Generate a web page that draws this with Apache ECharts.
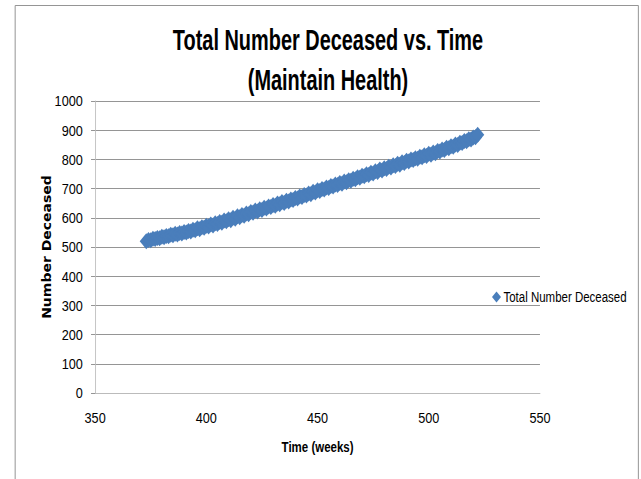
<!DOCTYPE html>
<html>
<head>
<meta charset="utf-8">
<script src="https://cdn.jsdelivr.net/npm/echarts@6/dist/echarts.min.js"></script>
<style>
  html, body { margin: 0; padding: 0; background: #ffffff; overflow: hidden; }
  /* The chart is laid out on a wider canvas and condensed horizontally,
     giving the narrow, tall lettering of the original workbook chart. */
  #chart { width: 782px; height: 479px; transform: scaleX(0.82); transform-origin: 0 0; }
</style>
</head>
<body>
<div id="chart"></div>
<script>
// Simulation output: cumulative deaths per week (maintain-health scenario)
const weeks = [
  373, 374, 375, 376, 377, 378, 379, 380, 381, 382, 383, 384, 385, 386, 387, 388, 389, 390, 391, 392,
  393, 394, 395, 396, 397, 398, 399, 400, 401, 402, 403, 404, 405, 406, 407, 408, 409, 410, 411, 412,
  413, 414, 415, 416, 417, 418, 419, 420, 421, 422, 423, 424, 425, 426, 427, 428, 429, 430, 431, 432,
  433, 434, 435, 436, 437, 438, 439, 440, 441, 442, 443, 444, 445, 446, 447, 448, 449, 450, 451, 452,
  453, 454, 455, 456, 457, 458, 459, 460, 461, 462, 463, 464, 465, 466, 467, 468, 469, 470, 471, 472,
  473, 474, 475, 476, 477, 478, 479, 480, 481, 482, 483, 484, 485, 486, 487, 488, 489, 490, 491, 492,
  493, 494, 495, 496, 497, 498, 499, 500, 501, 502, 503, 504, 505, 506, 507, 508, 509, 510, 511, 512,
  513, 514, 515, 516, 517, 518, 519, 520, 521, 522
];
const deceased = [
  520, 524, 523, 528, 527, 531, 530, 535, 533, 538, 537, 542, 540, 545, 543, 548, 546, 551, 550, 555,
  553, 559, 557, 564, 561, 568, 566, 573, 570, 577, 574, 581, 579, 586, 583, 591, 588, 595, 592, 600,
  597, 605, 602, 610, 607, 615, 612, 620, 617, 625, 622, 629, 627, 634, 632, 639, 637, 644, 641, 649,
  646, 654, 651, 658, 656, 663, 661, 668, 666, 673, 671, 678, 676, 683, 681, 689, 687, 694, 692, 699,
  697, 704, 702, 709, 707, 714, 712, 719, 717, 724, 722, 729, 727, 734, 732, 739, 737, 744, 742, 749,
  747, 754, 752, 759, 757, 765, 762, 770, 767, 775, 772, 780, 777, 785, 782, 790, 788, 795, 793, 800,
  798, 804, 802, 809, 807, 814, 812, 819, 816, 824, 821, 829, 827, 834, 832, 840, 838, 845, 843, 851,
  849, 857, 856, 863, 862, 869, 868, 875, 876, 884
];

const xTicks = { min: 350, max: 550, interval: 50 };
const yTicks = { min: 0, max: 1000, interval: 100 };

const titleLines = ['Total Number Deceased vs. Time', '(Maintain Health)'];
const seriesName = 'Total Number Deceased';
const xName = 'Time (weeks)';
const yName = 'Number Deceased';

const sans = "'Liberation Sans', Arial, sans-serif";

const points = weeks.map((w, i) => [w, deceased[i]]);

const chart = echarts.init(document.getElementById('chart'), null, {
  renderer: 'svg', width: 782, height: 479
});

chart.setOption({
  animation: false,
  backgroundColor: '#ffffff',
  textStyle: { fontFamily: sans },
  graphic: [
    {
      type: 'rect',
      left: 16,
      top: 3,
      shape: { width: 760, height: 520 },
      style: { fill: 'none', stroke: '#8a8a8a', lineWidth: 1 },
      silent: true,
      z: 0
    },
    {
      type: 'text',
      x: 400,
      y: 19,
      scaleX: 0.81,
      style: {
        text: titleLines.join('\n'),
        fontFamily: sans,
        fontWeight: 'bold',
        fontSize: 30,
        lineHeight: 40,
        fill: '#000000',
        align: 'center',
        verticalAlign: 'top'
      },
      silent: true,
      z: 10
    }
  ],
  legend: {
    data: [{ name: seriesName, icon: 'diamond' }],
    left: 595,
    top: 285,
    itemWidth: 11,
    itemHeight: 11,
    itemGap: 4,
    textStyle: { fontFamily: sans, fontSize: 14, color: '#000000', padding: [0, 0, 0, -2] }
  },
  grid: { left: 116, right: 123.5, top: 101, bottom: 86, containLabel: false },
  xAxis: {
    type: 'value',
    min: xTicks.min,
    max: xTicks.max,
    interval: xTicks.interval,
    name: xName,
    nameLocation: 'middle',
    nameGap: 47,
    nameMoveOverlap: false,
    nameTextStyle: { fontFamily: sans, fontWeight: 'bold', fontSize: 14, color: '#000000' },
    axisLine: { show: true, lineStyle: { color: '#bfbfbf', width: 1 } },
    axisTick: { show: false },
    axisLabel: { fontFamily: sans, fontSize: 15.5, color: '#000000', margin: 17 },
    splitLine: { show: false }
  },
  yAxis: {
    type: 'value',
    min: yTicks.min,
    max: yTicks.max,
    interval: yTicks.interval,
    name: yName,
    nameLocation: 'middle',
    nameRotate: 90,
    nameGap: 52,
    nameMoveOverlap: false,
    nameTextStyle: { fontFamily: "'DejaVu Sans', sans-serif", fontWeight: 'bold', fontSize: 14, color: '#000000' },
    axisLine: { show: true, lineStyle: { color: '#bfbfbf', width: 1 } },
    axisTick: { show: true, length: 5, inside: false, lineStyle: { color: '#8a8a8a' } },
    axisLabel: {
      fontFamily: sans, fontSize: 15.5, color: '#000000', margin: 15,
      formatter: (v) => String(v)
    },
    splitLine: { show: true, lineStyle: { color: '#8a8a8a', width: 1 } }
  },
  series: [{
    name: seriesName,
    type: 'scatter',
    symbol: 'diamond',
    symbolSize: 16,
    data: points,
    itemStyle: { color: '#4a7ebb', opacity: 1 }
  }]
});
</script>
</body>
</html>
